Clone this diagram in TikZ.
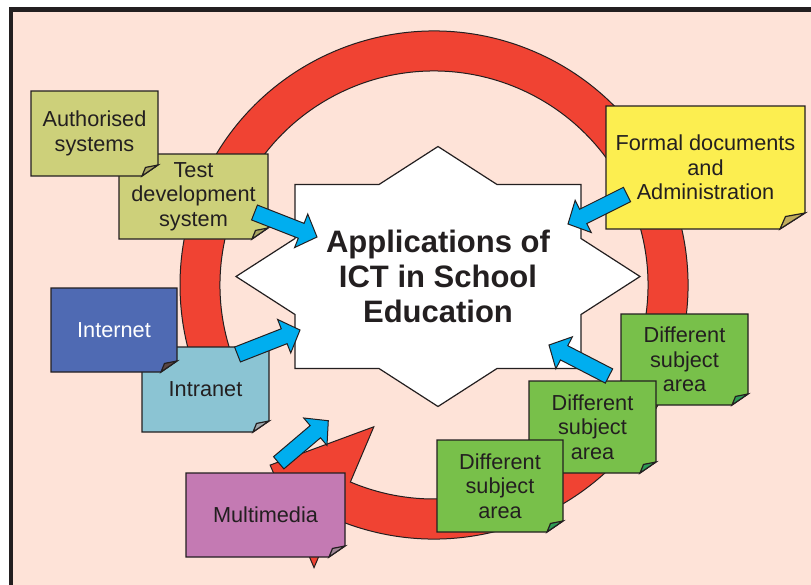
\documentclass[tikz,border=0pt]{standalone}
\usepackage{fontspec}
\setmainfont{Liberation Sans}
\usetikzlibrary{calc}
\definecolor{peach}{RGB}{254,227,216}
\definecolor{ringred}{RGB}{240,67,51}
\definecolor{arrcyan}{RGB}{0,174,239}
\definecolor{olive}{RGB}{205,208,122}
\definecolor{olivefold}{RGB}{168,164,98}
\definecolor{yel}{RGB}{252,238,80}
\definecolor{yelfold}{RGB}{192,172,92}
\definecolor{netblue}{RGB}{79,106,179}
\definecolor{netfold}{RGB}{90,70,66}
\definecolor{intra}{RGB}{139,196,211}
\definecolor{intrafold}{RGB}{160,168,172}
\definecolor{mauve}{RGB}{196,122,179}
\definecolor{mauvefold}{RGB}{160,135,150}
\definecolor{grn}{RGB}{120,192,74}
\definecolor{grnfold}{RGB}{45,155,85}
\definecolor{ink}{RGB}{35,31,32}
\tikzset{
  notebody/.style={draw=ink, line width=1.2pt, line join=miter},
  notetext/.style={inner sep=0pt, align=center, font=\fontsize{21.7}{24.5}\selectfont},
  titletext/.style={inner sep=0pt, align=center, text=ink, font=\fontsize{31}{35}\selectfont\bfseries},
  fatarrow/.style={fill=arrcyan, draw=ink, line width=1pt, line join=miter,
    to path={($(\tikztostart)!8pt!90:(\tikztotarget)$)
      -- ($(\tikztotarget)!17pt!(\tikztostart)!8pt!-90:(\tikztostart)$)
      -- ($(\tikztotarget)!17pt!(\tikztostart)!18pt!-90:(\tikztostart)$)
      -- (\tikztotarget)
      -- ($(\tikztotarget)!17pt!(\tikztostart)!18pt!90:(\tikztostart)$)
      -- ($(\tikztotarget)!17pt!(\tikztostart)!8pt!90:(\tikztostart)$)
      -- ($(\tikztostart)!8pt!-90:(\tikztotarget)$) -- cycle}},
}
\def\foldw{16}\def\foldh{11}
\newcommand\stickynote[9]{%
  \path[notebody, fill=#6] (#2,#3) -- (#4,#3) -- (#4,#5-\foldh) -- (#4-\foldw,#5) -- (#2,#5) -- cycle;
  \path[notebody, fill=#7] (#4,#5-\foldh) -- (#4-\foldw,#5) -- (#4-0.78*\foldw,#5-0.78*\foldh) -- cycle;
  \node[notetext, text=#9] (#1) at ({(#2+#4)/2},{(#3+#5)/2}) {#8};}
\begin{document}
\begin{tikzpicture}[x=1pt,y=-1pt]
\useasboundingbox (0,0) rectangle (811,584);
\fill[white] (0,0) rectangle (811,584);
\draw[fill=peach, draw=ink, line width=4.5pt] (11,9.5) rectangle (840,610);
% ring with arrowhead
\begin{scope}[shift={(434,285)}]
\draw[fill=ringred, draw=ink, line width=1pt, line join=miter]
  (113:214) -- (113:154) -- (132.3:243.5) -- (113:307) -- (113:254)
  arc[start angle=113, end angle=-205, radius=254]
  -- (-205:214) arc[start angle=-205, end angle=113, radius=214] -- cycle;
\end{scope}
% star
\draw[fill=white, draw=ink, line width=1.2pt, line join=miter]
  (438,146.5) -- (497,184.5) -- (581,184.5) -- (581,238.5) -- (640,276.5)
  -- (581,314.5) -- (581,368.5) -- (497,368.5) -- (438,406.5) -- (379,368.5)
  -- (295,368.5) -- (295,314.5) -- (236,276.5) -- (295,238.5) -- (295,184.5)
  -- (379,184.5) -- cycle;
\node[titletext] (title) at (438,276) {Applications of\\ICT in School\\Education};
% notes
\stickynote{test}{119}{154}{268}{239}{olive}{olivefold}{Test\\development\\system}{ink}
\stickynote{auth}{31}{91}{158}{176}{olive}{olivefold}{Authorised\\systems}{ink}
\def\foldw{25}\def\foldh{16}
\stickynote{formal}{606}{106}{805}{229}{yel}{yelfold}{Formal documents\\and\\Administration}{ink}
\def\foldw{16}\def\foldh{11}
\stickynote{intranet}{142}{347}{269}{432}{intra}{intrafold}{Intranet}{ink}
\stickynote{internet}{51}{288}{177}{372}{netblue}{netfold}{Internet}{white}
\stickynote{g1}{621}{314}{748}{405}{grn}{grnfold}{Different\\subject\\area}{ink}
\stickynote{g2}{529}{381}{656}{473}{grn}{grnfold}{Different\\subject\\area}{ink}
\stickynote{g3}{437}{440}{563}{532}{grn}{grnfold}{Different\\subject\\area}{ink}
% arrow ends
\coordinate (a1s) at (254.5,212.5); \coordinate (a1t) at (317,237);
\coordinate (a2s) at (627,194.5);   \coordinate (a2t) at (568,224);
\coordinate (a3s) at (237.5,354.5); \coordinate (a3t) at (300,330);
\coordinate (a4s) at (609,376);     \coordinate (a4t) at (549,345);
\coordinate (a5s) at (278.7,462.8); \coordinate (a5t) at (328.3,420.7);
\path[fatarrow] (a5s) to (a5t);
\stickynote{multi}{186}{473}{345}{557}{mauve}{mauvefold}{Multimedia}{ink}
\path[fatarrow] (a1s) to (a1t);
\path[fatarrow] (a2s) to (a2t);
\path[fatarrow] (a3s) to (a3t);
\path[fatarrow] (a4s) to (a4t);
\end{tikzpicture}
\end{document}
